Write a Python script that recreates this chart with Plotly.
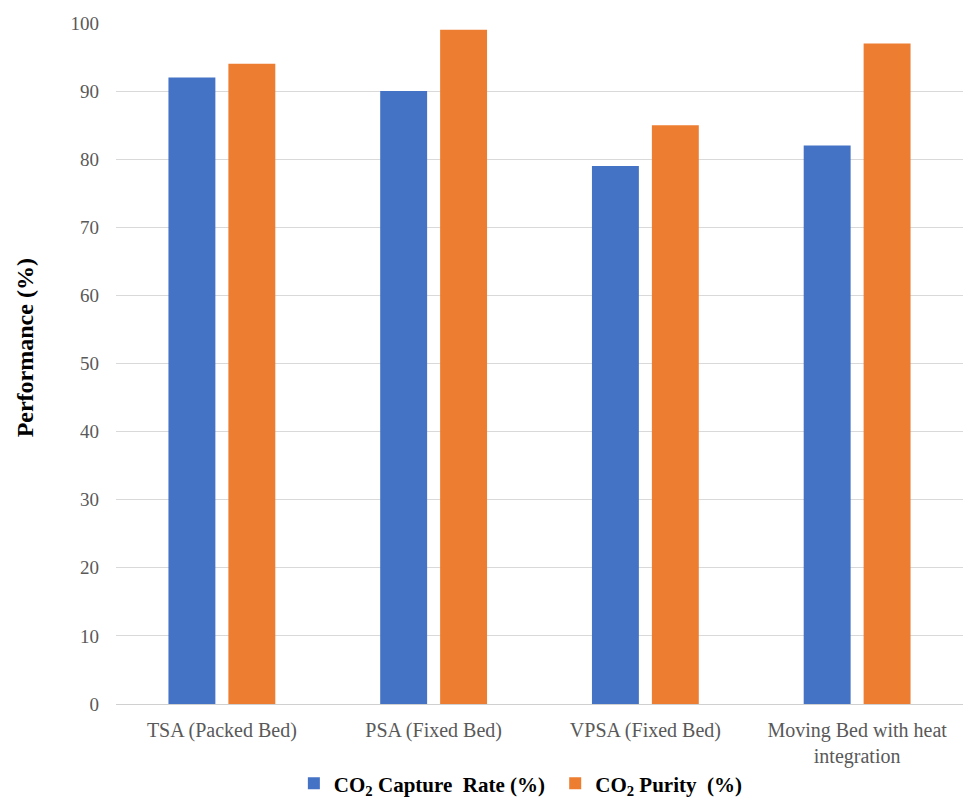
import plotly.graph_objects as go

# Adsorption process configurations and their performance figures
categories = [
    "TSA (Packed Bed)",
    "PSA (Fixed Bed)",
    "VPSA (Fixed Bed)",
    "Moving Bed with heat<br>integration",
]
capture_rate = [92, 90, 79, 82]
purity = [94, 99, 85, 97]

series_names = [
    "<b>CO<sub>2</sub> Capture  Rate (%)</b>&nbsp;",
    "<b>CO<sub>2</sub> Purity  (%)</b>",
]
series_colors = ["#4472C4", "#ED7D31"]
y_ticks = [0, 10, 20, 30, 40, 50, 60, 70, 80, 90, 100]

serif = "Liberation Serif, Times New Roman, serif"

fig = go.Figure()
for name, values, color in zip(series_names, [capture_rate, purity], series_colors):
    fig.add_trace(go.Bar(
        x=categories,
        y=values,
        name=name,
        marker=dict(color=color, line=dict(width=0)),
    ))

fig.update_layout(
    width=963,
    height=804,
    barmode="group",
    bargap=0.434,
    bargroupgap=0.217,
    plot_bgcolor="white",
    paper_bgcolor="white",
    margin=dict(l=116, r=0, t=23, b=100, autoexpand=False),
    font=dict(family=serif, color="#595959"),
    showlegend=True,
    legend=dict(
        orientation="h",
        x=0.478,
        xanchor="center",
        y=-0.117,
        yanchor="middle",
        font=dict(family=serif, size=21, color="#000000"),
        itemwidth=30,
        traceorder="normal",
    ),
    annotations=[
        dict(
            text="<b>Performance (%)</b>",
            textangle=-90,
            xref="paper",
            yref="paper",
            x=-0.108,
            y=0.523,
            xanchor="center",
            yanchor="middle",
            showarrow=False,
            font=dict(family=serif, size=24, color="#000000"),
        )
    ],
)

fig.update_yaxes(
    range=[0, 100],
    tickvals=y_ticks,
    showgrid=True,
    gridcolor="#D9D9D9",
    gridwidth=1,
    zeroline=False,
    showline=False,
    ticks="",
    automargin=False,
    ticklabelstandoff=16,
    tickfont=dict(family=serif, size=19, color="#595959"),
)

fig.update_xaxes(
    showgrid=False,
    showline=True,
    linecolor="#D0D0D0",
    linewidth=1,
    ticks="",
    automargin=False,
    ticklabelstandoff=8,
    tickfont=dict(family=serif, size=20, color="#595959"),
)

fig.write_html("out.html")
